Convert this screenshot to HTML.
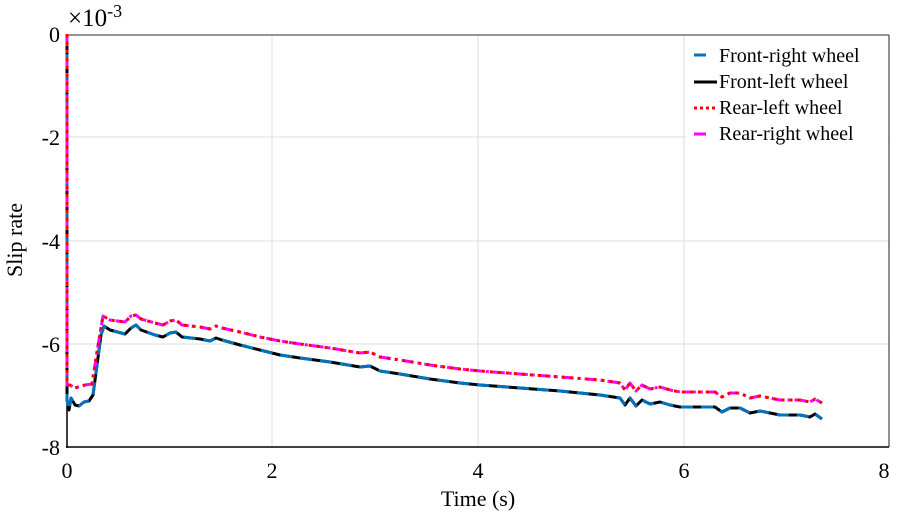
<!DOCTYPE html>
<html><head><meta charset="utf-8"><style>
body{margin:0;background:#fff}
svg{display:block;font-family:"Liberation Serif",serif}
</style></head><body>
<svg width="898" height="516" viewBox="0 0 898 516">
<rect width="898" height="516" fill="#fff"/>
<g stroke="#dcdcdc" stroke-width="1">
<line x1="272" y1="35" x2="272" y2="447"/><line x1="478" y1="35" x2="478" y2="447"/><line x1="684" y1="35" x2="684" y2="447"/>
<line x1="67" y1="137" x2="889" y2="137"/><line x1="67" y1="241" x2="889" y2="241"/><line x1="67" y1="344" x2="889" y2="344"/>
</g>
<rect x="686" y="36" width="202" height="118" fill="#fff"/>
<line x1="67" y1="35" x2="889" y2="35" stroke="#555" stroke-width="1.3"/>
<line x1="889" y1="35" x2="889" y2="447" stroke="#555" stroke-width="1.3"/>
<line x1="67" y1="34" x2="67" y2="448" stroke="#000" stroke-width="1.5"/>
<line x1="66" y1="447" x2="889" y2="447" stroke="#000" stroke-width="1.5"/>
<g fill="none" stroke-width="3" stroke-linejoin="round">
<polyline stroke="#000" points="67,34 67,400 69,410 71,398 75,405 79,406 84,402 89,401 93,395 97,365 101,335 104,326 110,330 125,334 131,328 136,325 141,330 155,335 163,337 170,333 176,332 182,337 200,339 210,341 216,338 222,340 240,345 260,350 280,355 300,358 330,362 360,367 370,366 380,371 400,374 430,379 460,383 480,385 520,388 560,391 600,395 620,398 625,405 630,398 636,406 642,400 650,404 660,402 670,405 680,407 700,407 715,407 722,412 730,408 740,408 750,413 760,411 770,413 780,415 800,415 810,417 815,414 822,419"/>
<polyline stroke="#0072BD" stroke-dasharray="12,8" points="67,34 67,400 69,410 71,398 75,405 79,406 84,402 89,401 93,395 97,365 101,335 104,326 110,330 125,334 131,328 136,325 141,330 155,335 163,337 170,333 176,332 182,337 200,339 210,341 216,338 222,340 240,345 260,350 280,355 300,358 330,362 360,367 370,366 380,371 400,374 430,379 460,383 480,385 520,388 560,391 600,395 620,398 625,405 630,398 636,406 642,400 650,404 660,402 670,405 680,407 700,407 715,407 722,412 730,408 740,408 750,413 760,411 770,413 780,415 800,415 810,417 815,414 822,419"/>
<polyline stroke="#ff00ff" stroke-dasharray="12,4,3,4" points="67,34 67,385 70,385 75,388 85,385 92,384 97,352 103,316 110,320 125,322 131,316 136,315 141,319 155,323 163,325 170,321 176,320 182,325 200,327 210,329 216,326 222,328 240,332 260,337 280,341 300,344 330,348 360,353 370,352 380,357 400,360 430,365 460,369 480,371 520,374 560,377 600,380 620,383 625,390 630,383 636,391 642,385 650,389 660,387 670,390 680,392 700,392 715,392 722,397 730,393 740,393 750,398 760,396 770,398 780,400 800,400 810,402 815,399 822,403"/>
<polyline stroke="#ff0000" stroke-dasharray="3,5" points="67,34 67,385 70,385 75,388 85,385 92,384 97,352 103,316 110,320 125,322 131,316 136,315 141,319 155,323 163,325 170,321 176,320 182,325 200,327 210,329 216,326 222,328 240,332 260,337 280,341 300,344 330,348 360,353 370,352 380,357 400,360 430,365 460,369 480,371 520,374 560,377 600,380 620,383 625,390 630,383 636,391 642,385 650,389 660,387 670,390 680,392 700,392 715,392 722,397 730,393 740,393 750,398 760,396 770,398 780,400 800,400 810,402 815,399 822,403"/>
</g>
<g font-size="22" fill="#000" text-anchor="end">
<text x="60" y="42">0</text><text x="60" y="145">-2</text><text x="60" y="249">-4</text><text x="60" y="352">-6</text><text x="60" y="455">-8</text>
</g>
<g font-size="22" fill="#000" text-anchor="middle">
<text x="67" y="478">0</text><text x="272" y="478">2</text><text x="478" y="478">4</text><text x="684" y="478">6</text><text x="884" y="478">8</text>
<text x="478" y="506">Time (s)</text>
</g>
<text x="68" y="26" font-size="25">×10<tspan font-size="18" dy="-9">-3</tspan></text>
<text transform="translate(22,240) rotate(-90)" font-size="22" text-anchor="middle">Slip rate</text>
<g stroke-width="3">
<line x1="694" y1="55" x2="706" y2="55" stroke="#0072BD"/>
<line x1="694" y1="82" x2="717" y2="82" stroke="#000"/>
<line x1="694" y1="108" x2="717" y2="108" stroke="#f00" stroke-dasharray="3,3"/>
<line x1="694" y1="134" x2="706" y2="134" stroke="#f0f"/>
</g>
<g font-size="20" fill="#000">
<text x="719" y="62">Front-right wheel</text><text x="719" y="88">Front-left wheel</text><text x="719" y="114">Rear-left wheel</text><text x="719" y="140">Rear-right wheel</text>
</g>
</svg>
</body></html>
